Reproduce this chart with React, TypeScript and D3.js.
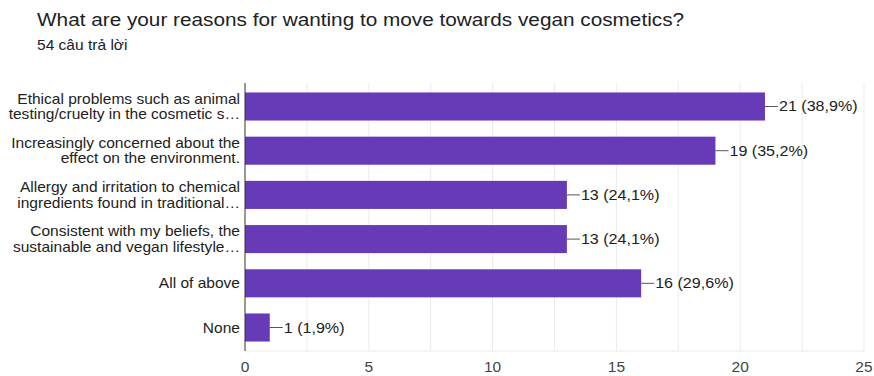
import React from "react";
import * as d3 from "d3";

const categories: string[][] = [
  ["Ethical problems such as animal", "testing/cruelty in the cosmetic s…"],
  ["Increasingly concerned about the", "effect on the environment."],
  ["Allergy and irritation to chemical", "ingredients found in traditional…"],
  ["Consistent with my beliefs, the", "sustainable and vegan lifestyle…"],
  ["All of above"],
  ["None"],
];
const counts: number[] = [21, 19, 13, 13, 16, 1];
const percents: string[] = ["38,9%", "35,2%", "24,1%", "24,1%", "29,6%", "1,9%"];
const ticks: number[] = [0, 5, 10, 15, 20, 25];
const gridValues: number[] = [2.5, 5, 7.5, 10, 12.5, 15, 17.5, 20, 22.5, 25];

const W = 874;
const H = 376;
const FONT = "'Liberation Sans', Arial, Helvetica, sans-serif";
const SX = 1.11;

function T(props: {
  x: number;
  y: number;
  size: number;
  fill: string;
  anchor?: "start" | "middle" | "end";
  children: React.ReactNode;
}) {
  return (
    <text
      transform={`translate(${props.x},${props.y}) scale(${SX},1)`}
      fontSize={props.size}
      fill={props.fill}
      textAnchor={props.anchor || "start"}
    >
      {props.children}
    </text>
  );
}

export default function App() {
  const x = d3.scaleLinear().domain([0, 25]).range([245, 864]);
  const y = d3
    .scaleBand<number>()
    .domain(d3.range(categories.length))
    .range([84.5, 349.5])
    .paddingInner(0.365)
    .paddingOuter(0.18);
  const bw = y.bandwidth();
  return (
    <svg
      width={W}
      height={H}
      style={{ position: "absolute", left: 0, top: 0, background: "#fff" }}
      fontFamily={FONT}
    >
      <rect x={0} y={0} width={W} height={H} fill="#fff" />
      <T x={37} y={26} size={18.7} fill="#202124">
        What are your reasons for wanting to move towards vegan cosmetics?
      </T>
      <T x={37} y={50} size={14} fill="#202124">
        54 câu trả lời
      </T>
      {gridValues.map((g) => (
        <line
          key={g}
          x1={x(g)}
          x2={x(g)}
          y1={83}
          y2={351}
          stroke="#ebebeb"
          strokeWidth={1}
        />
      ))}
      <line x1={245} x2={864} y1={351} y2={351} stroke="#ebebeb" />
      {counts.map((c, i) => {
        const yy = y(i)!;
        const cy = yy + bw / 2;
        const lines = categories[i];
        return (
          <g key={i}>
            <rect x={x(0)} y={yy} width={x(c) - x(0)} height={bw} fill="#673ab7" />
            <line x1={x(c)} x2={x(c) + 13} y1={cy} y2={cy} stroke="#555" strokeWidth={1} />
            <T x={x(c) + 14} y={cy + 5} size={14.5} fill="#222">
              {`${c} (${percents[i]})`}
            </T>
            {lines.map((l, j) => (
              <T
                key={j}
                x={240}
                y={cy + 5 + (j - (lines.length - 1) / 2) * 15.5}
                size={14}
                fill="#222"
                anchor="end"
              >
                {l}
              </T>
            ))}
          </g>
        );
      })}
      <line x1={x(0)} x2={x(0)} y1={83} y2={351} stroke="#333" strokeWidth={1} />
      {ticks.map((t) => (
        <T key={t} x={x(t)} y={372} size={14} fill="#444" anchor="middle">
          {t}
        </T>
      ))}
    </svg>
  );
}
